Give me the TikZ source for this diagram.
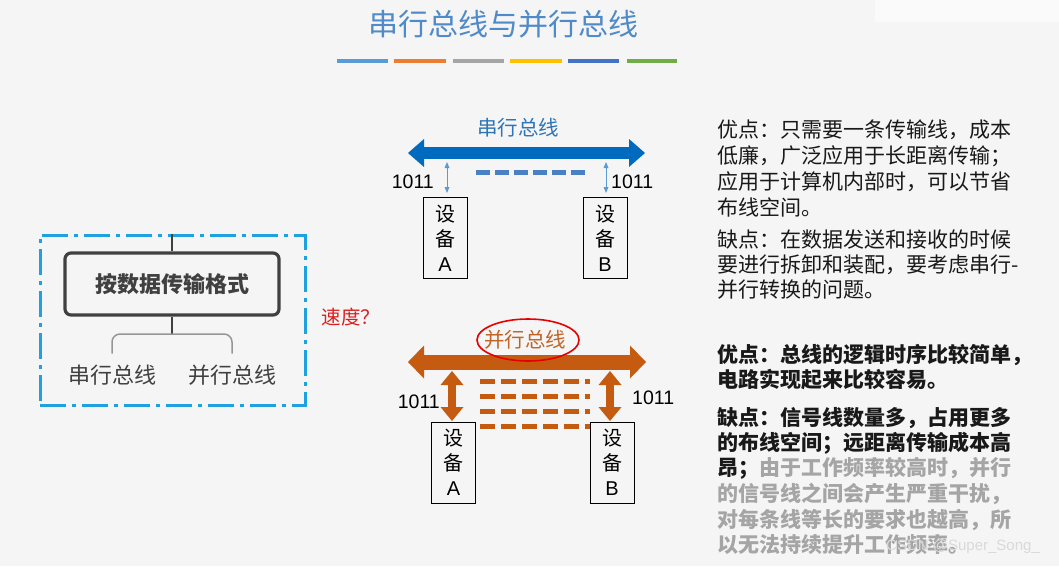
\documentclass[tikz,border=0pt]{standalone}
\usepackage{fontspec}
\setmainfont{Liberation Sans}
\newfontfamily\cjk{Noto Sans CJK SC}
\usetikzlibrary{arrows.meta}
\definecolor{bg}{RGB}{245,245,245}
\definecolor{titleblue}{RGB}{79,138,201}
\definecolor{bara}{RGB}{91,155,213}
\definecolor{barb}{RGB}{237,125,49}
\definecolor{barc}{RGB}{165,165,165}
\definecolor{bard}{RGB}{255,192,0}
\definecolor{bare}{RGB}{68,114,196}
\definecolor{barf}{RGB}{112,173,71}
\definecolor{busblue}{RGB}{0,106,190}
\definecolor{labelblue}{RGB}{46,117,182}
\definecolor{lightblue}{RGB}{91,155,213}
\definecolor{dashblue}{RGB}{74,128,196}
\definecolor{busbrown}{RGB}{197,90,17}
\definecolor{labelbrown}{RGB}{192,100,40}
\definecolor{framecyan}{RGB}{30,160,225}
\definecolor{treegray}{RGB}{64,64,64}
\definecolor{bracketgray}{RGB}{150,150,150}
\definecolor{textgray}{RGB}{165,165,165}
\definecolor{textblack}{RGB}{25,25,25}
\definecolor{speedred}{RGB}{220,30,30}
\definecolor{circlered}{RGB}{230,0,0}
\begin{document}
\begin{tikzpicture}[x=1pt,y=-1pt,
  titletext/.style={font=\cjk\fontsize{30}{30}\selectfont, text=titleblue, inner sep=0},
  colorbar/.style={line width=4.5pt},
  busS/.style={busblue, line width=12pt,
    {Triangle[width=28pt,length=16pt,line width=0pt]}-{Triangle[width=28pt,length=16pt,line width=0pt]}},
  busP/.style={busbrown, line width=15pt,
    {Triangle[width=33pt,length=16pt,line width=0pt]}-{Triangle[width=33pt,length=16pt,line width=0pt]}},
  thinarrow/.style={lightblue, line width=1pt,
    {Triangle[width=5pt,length=6pt,line width=0pt]}-{Triangle[width=5pt,length=6pt,line width=0pt]}},
  fatarrow/.style={busbrown, line width=8pt,
    {Triangle[width=23pt,length=14pt,line width=0pt]}-{Triangle[width=23pt,length=14pt,line width=0pt]}},
  sdash/.style={dashblue, line width=5pt, dash pattern=on 14pt off 5pt},
  pdash/.style={busbrown, line width=5pt, dash pattern=on 15pt off 6pt},
  device/.style={draw=black, line width=0.8pt, minimum width=44pt, minimum height=81pt,
    inner sep=0, align=center, font=\fontsize{20}{25}\selectfont, text=black},
  bits/.style={font=\fontsize{19.5}{20}\selectfont, text=black, inner sep=0},
  buslabel/.style={font=\cjk\fontsize{20.5}{21}\selectfont, inner sep=0},
  frame/.style={draw=framecyan, line width=3pt, dash pattern=on 26pt off 6pt on 4pt off 6pt,
    minimum width=265pt, minimum height=170pt, inner sep=0},
  treebox/.style={draw=treegray, line width=3.2pt, rounded corners=6pt, minimum width=214pt,
    minimum height=62pt, inner sep=0, font=\cjk\bfseries\fontsize{22}{22}\selectfont, text=treegray},
  stem/.style={treegray, line width=2.5pt},
  bracket/.style={bracketgray, line width=1.5pt, rounded corners=8pt},
  child/.style={font=\cjk\fontsize{22}{22}\selectfont, text=treegray, inner sep=0},
  rtext/.style={font=\cjk\fontsize{21}{21}\selectfont, text=textblack, inner sep=0, anchor=west},
  rbold/.style={rtext, font=\cjk\bfseries\fontsize{21}{21}\selectfont},
]
% background
\fill[bg] (0,0) rectangle (1059,566);
\useasboundingbox (0,0) rectangle (1059,566);
\fill[white!55!bg] (875,0) rectangle (1059,22);

% title
\node[titletext] (title) at (503,24) {串行总线与并行总线};
\coordinate (b1a) at (337,61); \coordinate (b1b) at (388,61);
\coordinate (b2a) at (394,61); \coordinate (b2b) at (446,61);
\coordinate (b3a) at (453,61); \coordinate (b3b) at (504,61);
\coordinate (b4a) at (510,61); \coordinate (b4b) at (562,61);
\coordinate (b5a) at (568,61); \coordinate (b5b) at (619,61);
\coordinate (b6a) at (627,61); \coordinate (b6b) at (677,61);
\draw[colorbar, bara] (b1a) -- (b1b);
\draw[colorbar, barb] (b2a) -- (b2b);
\draw[colorbar, barc] (b3a) -- (b3b);
\draw[colorbar, bard] (b4a) -- (b4b);
\draw[colorbar, bare] (b5a) -- (b5b);
\draw[colorbar, barf] (b6a) -- (b6b);

% ---------- serial bus ----------
\node[buslabel, text=labelblue] (slabel) at (518,128) {串行总线};
\coordinate (sL) at (408,153);
\coordinate (sR) at (645,153);
\draw[busS] (sL) -- (sR);
\node[device] (sA) at (445,238) {{\cjk 设}\\{\cjk 备}\\A};
\node[device] (sB) at (605,238) {{\cjk 设}\\{\cjk 备}\\B};
\coordinate (saT) at (447,162); \coordinate (saB) at (447,193);
\coordinate (sbT) at (606,162); \coordinate (sbB) at (606,193);
\draw[thinarrow] (saT) -- (saB);
\draw[thinarrow] (sbT) -- (sbB);
\node[bits, anchor=east] (sbitsA) at (434,182) {1011};
\node[bits, anchor=west] (sbitsB) at (611,182) {1011};
\coordinate (sd1) at (476,172); \coordinate (sd2) at (588,172);
\draw[sdash] (sd1) -- (sd2);

% ---------- parallel bus ----------
\coordinate (pL) at (408,362);
\coordinate (pR) at (646,362);
\draw[busP] (pL) -- (pR);
\node[buslabel, text=labelbrown] (plabel) at (525,340) {并行总线};
\draw[circlered, line width=1.6pt] (528,340) ellipse [x radius=51, y radius=21];
\coordinate (paT) at (452,371); \coordinate (paB) at (452,421);
\coordinate (pbT) at (610,371); \coordinate (pbB) at (610,421);
\draw[fatarrow] (paT) -- (paB);
\draw[fatarrow] (pbT) -- (pbB);
\foreach \yy/\nm in {381/a,396/b,411/c,426/d}{
  \coordinate (pd\nm1) at (480,\yy);
  \coordinate (pd\nm2) at (590,\yy);
  \draw[pdash] (pd\nm1) -- (pd\nm2);
}
\node[device] (pA) at (453.5,462.5) {{\cjk 设}\\{\cjk 备}\\A};
\node[device] (pB) at (612,462.5) {{\cjk 设}\\{\cjk 备}\\B};
\node[bits, anchor=east] (pbitsA) at (440,402) {1011};
\node[bits, anchor=west] (pbitsB) at (632,398) {1011};

% ---------- left tree ----------
\node[frame] (frm) at (172.5,320) {};
\node[treebox] (tree) at (172,284) {按数据传输格式};
\draw[stem] (tree.north |- frm.north) -- (tree.north);
\node[child] (c1) at (112,375) {串行总线};
\node[child] (c2) at (232,375) {并行总线};
\coordinate (bj) at (172,334);
\draw[treegray, line width=1.5pt] (tree.south) -- (bj);
\draw[bracket] ([yshift=11pt]c1.north) |- (bj) -| ([yshift=11pt]c2.north);
\node[font=\cjk\fontsize{19.5}{20}\selectfont, text=speedred, inner sep=0] (speed) at (351,317) {速度？};

% ---------- right text ----------
\node[rtext] (r1) at (717,130) {优点：只需要一条传输线，成本};
\node[rtext] (r2) at (717,156) {低廉，广泛应用于长距离传输；};
\node[rtext] (r3) at (717,182) {应用于计算机内部时，可以节省};
\node[rtext] (r4) at (717,207) {布线空间。};
\node[rtext] (r5) at (717,240) {缺点：在数据发送和接收的时候};
\node[rtext] (r6) at (717,265) {要进行拆卸和装配，要考虑串行-};
\node[rtext] (r7) at (717,290) {并行转换的问题。};

\node[rbold] (q1) at (717,355) {优点：总线的逻辑时序比较简单，};
\node[rbold] (q2) at (717,380) {电路实现起来比较容易。};
\node[rbold] (q3) at (717,418) {缺点：信号线数量多，占用更多};
\node[rbold] (q4) at (717,443) {的布线空间；远距离传输成本高};
\node[rbold] (q5) at (717,468) {昂；\textcolor{textgray}{由于工作频率较高时，并行}};
\node[rbold, text=textgray] (q6) at (717,494) {的信号线之间会产生严重干扰，};
\node[rbold, text=textgray] (q7) at (717,520) {对每条线等长的要求也越高，所};
\node[rbold, text=textgray] (q8) at (717,545) {以无法持续提升工作频率。};
\node[font=\fontsize{15}{15}\selectfont, text=white!70!gray, inner sep=0] (wm) at (963,547) {CSDN @Super\_Song\_};
\end{tikzpicture}
\end{document}
